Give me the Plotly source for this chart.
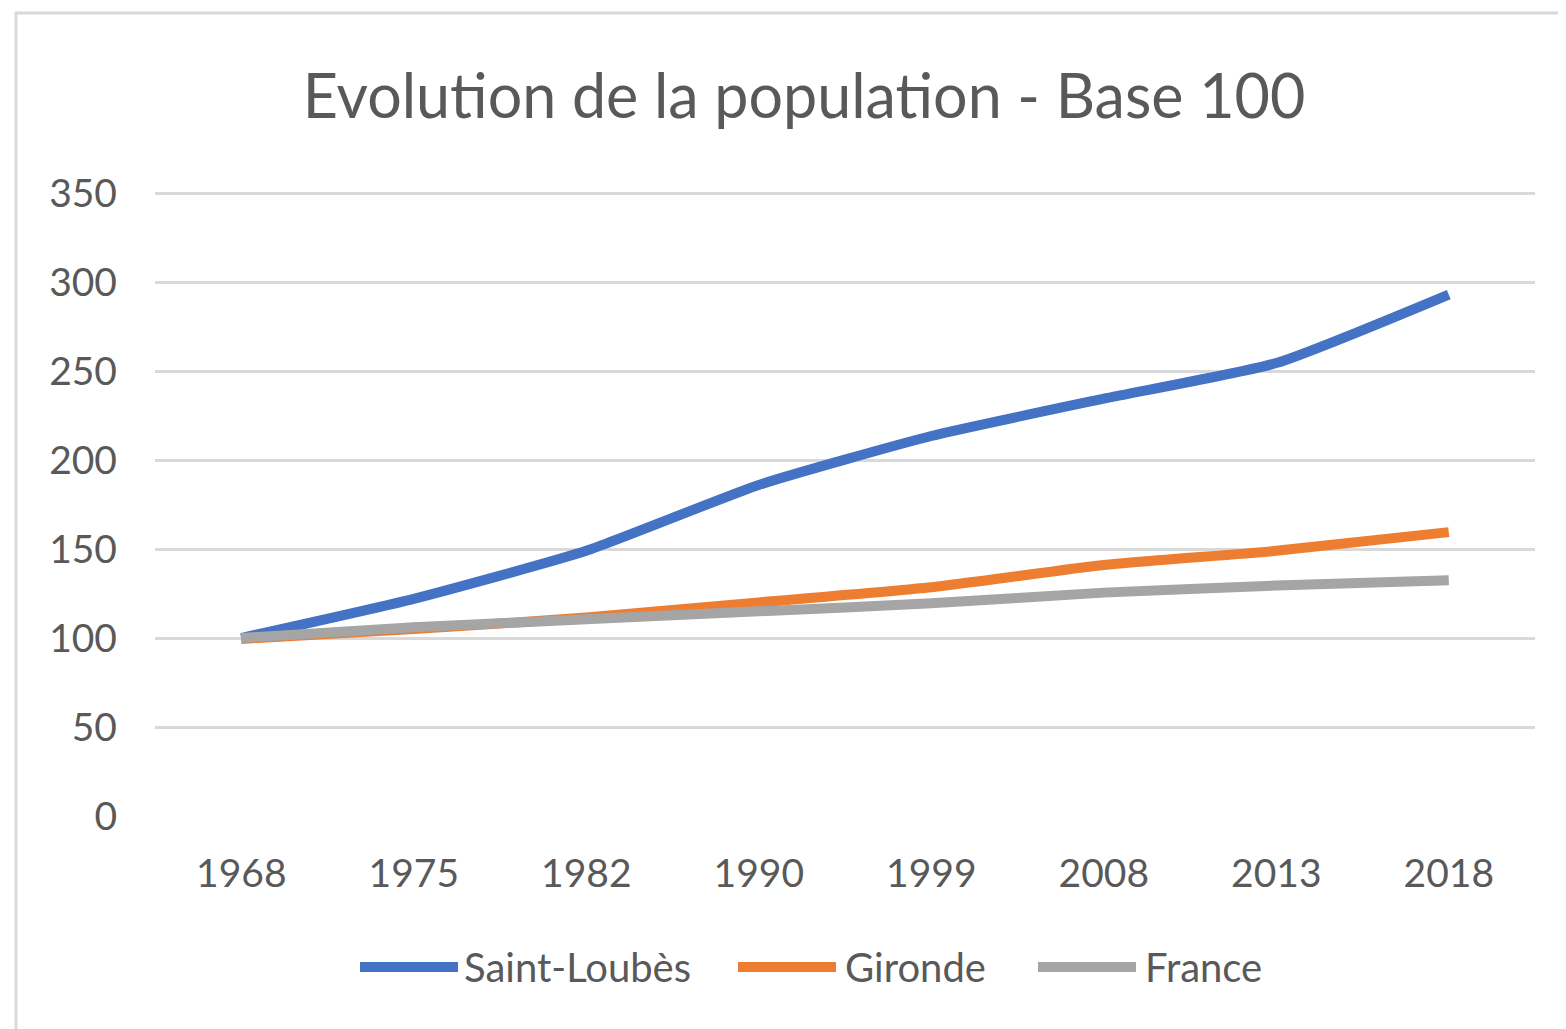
import plotly.graph_objects as go

years = ["1968", "1975", "1982", "1990", "1999", "2008", "2013", "2018"]
saint_loubes = [100, 122, 149, 186, 213.5, 234.5, 254.5, 293]
gironde = [99.5, 105, 111.5, 120, 128.5, 141, 149, 159.5]
france = [100, 106, 110.5, 115, 119.5, 125.5, 129.5, 132.5]
series_names = ["Saint-Loubès", "Gironde", "France"]
colors = ["#4472C4", "#ED7D31", "#A5A5A5"]
y_ticks = [0, 50, 100, 150, 200, 250, 300, 350]

OFF = 8  # page body margin
W, H = 1566, 1029
L, R, T, B = 155 - OFF, 39, 192 - OFF, 221
pw, ph = W - L - R, H - T - B

def px(x):
    return (x - OFF - L) / pw

def py(y):
    return (H - B - (y - OFF)) / ph

FONT = "Lato"
TXT = "#595959"

fig = go.Figure()
for name, vals, col in zip(series_names, [saint_loubes, gironde, france], colors):
    fig.add_trace(go.Scatter(
        x=years, y=vals, name=name, mode="lines",
        line=dict(color=col, width=10, shape="spline", smoothing=0.5),
        showlegend=False,
    ))

shapes = [
    dict(type="rect", xref="paper", yref="paper",
         x0=px(16), x1=px(1600), y0=py(1060), y1=py(13),
         line=dict(color="#D9D9D9", width=3), fillcolor="rgba(0,0,0,0)", layer="below"),
]
annotations = []
legend_items = [(360, 458, 462), (738, 836, 843), (1038, 1136, 1143)]
for (x0, x1, tx), name, col in zip(legend_items, series_names, colors):
    shapes.append(dict(type="line", xref="paper", yref="paper",
                       x0=px(x0), x1=px(x1), y0=py(967), y1=py(967),
                       line=dict(color=col, width=10)))
    annotations.append(dict(xref="paper", yref="paper", x=px(tx), y=py(967),
                            text=name, showarrow=False, xanchor="left", yanchor="middle",
                            font=dict(family=FONT, size=40, color=TXT)))

fig.update_layout(
    width=W, height=H,
    margin=dict(l=L, r=R, t=T, b=B),
    paper_bgcolor="white", plot_bgcolor="white",
    title=dict(text="Evolution de la population - Base 100",
               x=(804 - OFF) / W, xref="container", xanchor="center",
               y=1 - (97 - OFF) / H, yref="container", yanchor="middle",
               font=dict(family=FONT, size=61, color=TXT)),
    shapes=shapes, annotations=annotations,
    font=dict(family=FONT, color=TXT),
)
fig.update_xaxes(type="category", range=[-0.5, 7.5], showgrid=False, zeroline=False,
                 showline=False, ticks="", tickfont=dict(family=FONT, size=39, color=TXT),
                 ticklabelstandoff=31)
fig.update_yaxes(range=[0, 350.6], tickvals=y_ticks, showgrid=True, gridcolor="#D9D9D9",
                 gridwidth=3, zeroline=False, showline=False, ticks="",
                 tickfont=dict(family=FONT, size=39, color=TXT), ticklabelstandoff=37)

fig.write_html("out.html")
